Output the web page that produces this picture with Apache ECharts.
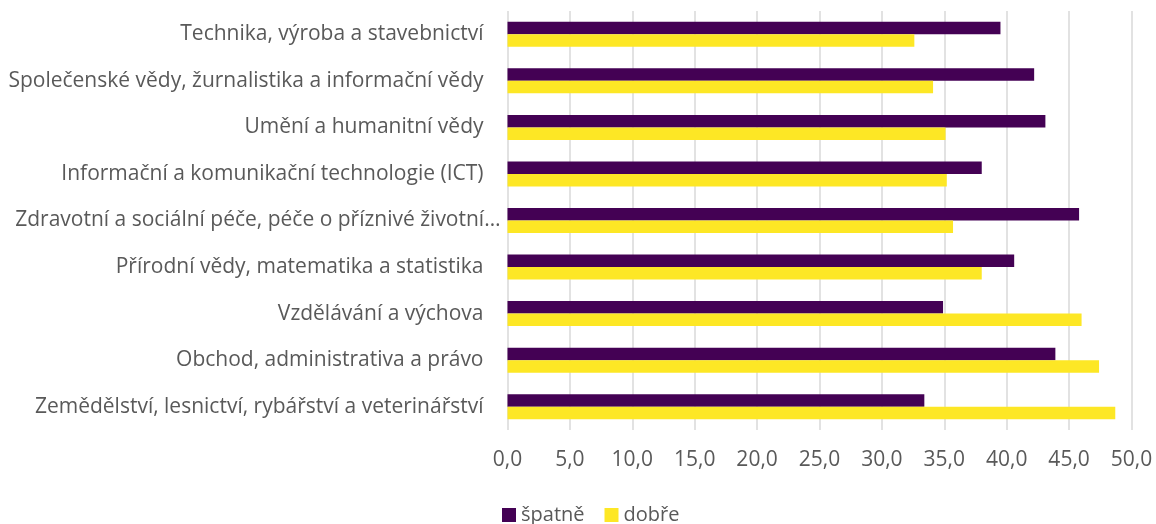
<!DOCTYPE html>
<html><head><meta charset="utf-8">
<script src="https://cdn.jsdelivr.net/npm/echarts@6/dist/echarts.min.js"></script>
<style>html,body{margin:0;padding:0;background:#fff}#c{width:1156px;height:524px}</style>
</head><body><div id="c"></div>
<script>
const categories = [
  "Technika, výroba a stavebnictví",
  "Společenské vědy, žurnalistika a informační vědy",
  "Umění a humanitní vědy",
  "Informační a komunikační technologie (ICT)",
  "Zdravotní a sociální péče, péče o příznivé životní…",
  "Přírodní vědy, matematika a statistika",
  "Vzdělávání a výchova",
  "Obchod, administrativa a právo",
  "Zemědělství, lesnictví, rybářství a veterinářství"
];
const spatne = [39.5, 42.2, 43.1, 38.0, 45.8, 40.6, 34.9, 43.9, 33.4];
const dobre  = [32.6, 34.1, 35.1, 35.2, 35.7, 38.0, 46.0, 47.4, 48.7];
const seriesNames = ["špatně", "dobře"];

const font = "'Open Sans', 'Liberation Sans', sans-serif";
const catData = categories.map(c => c.endsWith('…')
  ? {value: c, textStyle: {padding: [0, -17, 0, 0]}}
  : c);
const chart = echarts.init(document.getElementById('c'), null, {renderer: 'canvas'});
chart.setOption({
  animation: false,
  textStyle: {fontFamily: font},
  grid: {left: 507.5, right: 24.5, top: 11, bottom: 94, containLabel: false, outerBoundsMode: 'none'},
  legend: {
    top: 505, left: 502, padding: 0,
    itemWidth: 14, itemHeight: 14, itemGap: 20,
    icon: 'rect',
    textStyle: {fontSize: 20, color: '#595959', fontFamily: font},
    data: seriesNames
  },
  xAxis: {
    type: 'value', min: 0, max: 50, interval: 5,
    axisLine: {show: false}, axisTick: {show: false},
    splitLine: {show: true, lineStyle: {color: '#d9d9d9', width: 1.5}},
    axisLabel: {formatter: v => v.toFixed(1).replace('.', ','), fontSize: 21, color: '#595959', margin: 20, fontFamily: font}
  },
  yAxis: {
    type: 'category', inverse: true, data: catData,
    axisLine: {show: false}, axisTick: {show: false},
    axisLabel: {fontSize: 21, color: '#595959', margin: 24, fontFamily: font}
  },
  series: [
    {name: seriesNames[0], type: 'bar', data: spatne, barWidth: 12.5, barGap: '0%',
     itemStyle: {color: '#440154'}},
    {name: seriesNames[1], type: 'bar', data: dobre, barWidth: 12.5, barGap: '0%',
     itemStyle: {color: '#FDE725'}}
  ]
});
</script></body></html>
